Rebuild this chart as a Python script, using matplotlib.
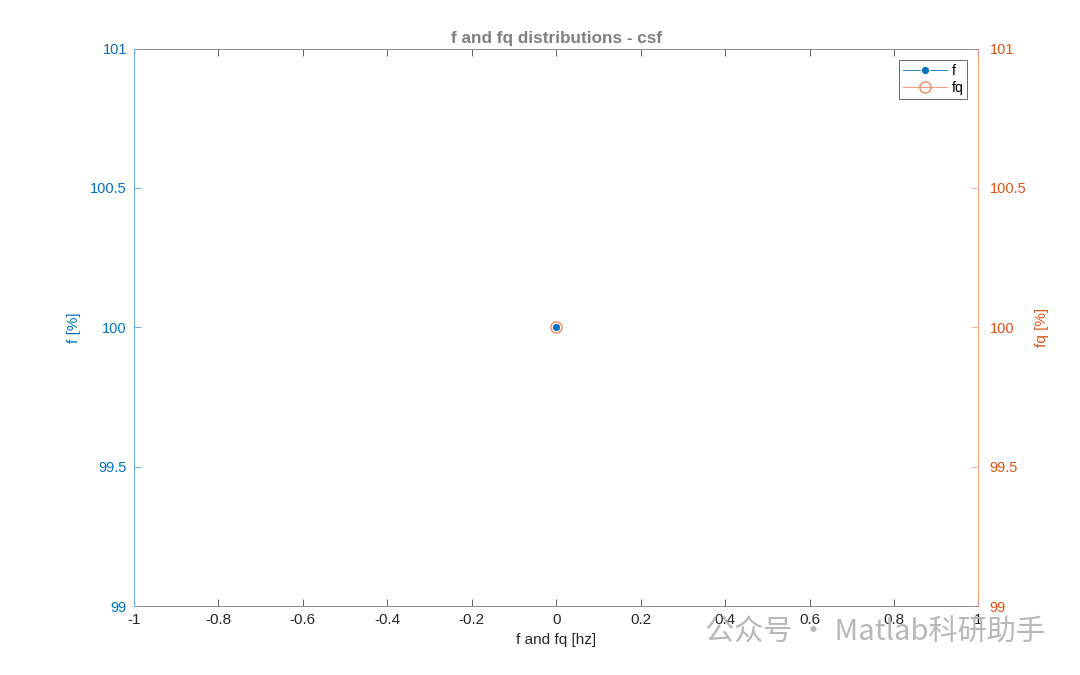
import numpy as np
import matplotlib
matplotlib.use('Agg')
import matplotlib.pyplot as plt

plt.rcParams['font.family'] = ['Liberation Sans', 'Noto Sans CJK SC', 'DejaVu Sans']

# data
freq = [0]
f_vals = [100]
fq_vals = [100]
xticks = np.round(np.arange(-1, 1.01, 0.2), 1)
yticks = [99, 99.5, 100, 100.5, 101]

blue = '#0072BD'
orange = '#D95319'
gray = '#262626'

fig = plt.figure(figsize=(10.8, 6.75), dpi=100)
ax = fig.add_axes([0.124, 0.102, 0.782, 0.826])
ax2 = ax.twinx()

l1, = ax.plot(freq, f_vals, '-o', color=blue, lw=0.6, ms=6,
              markerfacecolor=blue, markeredgecolor='white', markeredgewidth=0.8, label='f')
l2, = ax2.plot(freq, fq_vals, '-o', color='#F0A080', lw=0.8, ms=8,
               markerfacecolor='none', markeredgecolor='#EE8A60', markeredgewidth=1.0, label='fq')

ax.set_xlim(-1, 1)
ax.set_ylim(99, 101)
ax2.set_ylim(99, 101)
ax.set_xticks(xticks)
ax.set_xticklabels([('%g' % t) if t != 0 else '0' for t in xticks])
ax.set_yticks(yticks)
ax.set_yticklabels(['%g' % t for t in yticks])
ax2.set_yticks(yticks)
ax2.set_yticklabels(['%g' % t for t in yticks])

ax.tick_params(axis='x', direction='in', top=True, colors=gray, labelsize=11, length=5, width=0.5, pad=5)
ax.tick_params(axis='y', direction='in', colors='#3a8fd0', labelcolor=blue, labelsize=10.5,
               length=5, width=0.5, right=False, pad=5)
ax2.tick_params(axis='y', direction='in', colors='#ee9a78', labelcolor=orange, labelsize=10.5,
                length=5, width=0.5, pad=8)

for a in (ax, ax2):
    a.spines['top'].set_color('#8c8c8c')
    a.spines['bottom'].set_color('#8c8c8c')
    for s in a.spines.values():
        s.set_linewidth(0.6)
ax2.spines['left'].set_color('#6aaee0')
ax.spines['left'].set_color('#6aaee0')
ax2.spines['right'].set_color('#ee9a78')
ax.spines['right'].set_visible(False)

ax.set_xlabel('f and fq [hz]', fontsize=11, color=gray, labelpad=4)
ax.set_ylabel('f [%]', fontsize=11, color=blue, labelpad=7)
ax2.set_ylabel('fq [%]', fontsize=11, color=orange, labelpad=6)
ax.set_title('f and fq distributions - csf', fontsize=12.3, fontweight='bold', color='#7f7f7f', pad=4)

leg = ax2.legend(handles=[l1, l2], loc='upper right', fontsize=10, frameon=True,
                 fancybox=False, edgecolor='#262626', borderpad=0.3, handlelength=3.2,
                 labelspacing=0.2, handletextpad=0.3, borderaxespad=0.8)
leg.get_frame().set_linewidth(0.6)

# watermark
fig.text(0.653, 0.062, '公众号 · Matlab科研助手', fontsize=21, color='#b0b0b0',
         family=['Noto Sans CJK SC', 'DejaVu Sans'], va='center', ha='left', alpha=0.9)

fig.savefig('out.png', dpi=100, facecolor='white')
